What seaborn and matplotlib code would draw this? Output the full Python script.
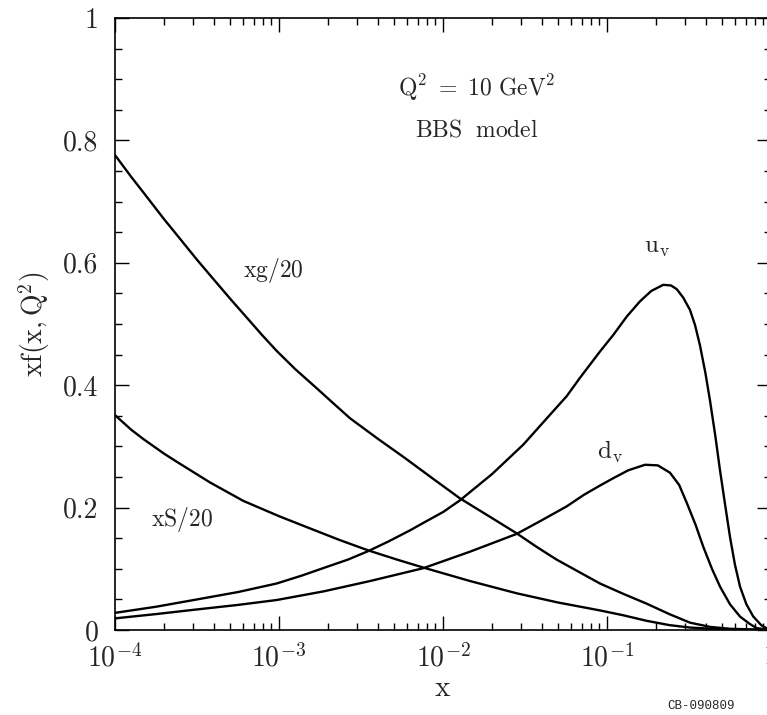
import numpy as np
import pandas as pd
import matplotlib
matplotlib.use("Agg")
import matplotlib.pyplot as plt
import seaborn as sns
from matplotlib.ticker import FixedLocator, FixedFormatter, MultipleLocator, LogLocator, NullFormatter

# ---- data (log10 x, value) ----
xg_logx = [-4.0, -3.9, -3.827, -3.7, -3.624, -3.5, -3.421, -3.3, -3.218, -3.1, -3.014, -2.9,
           -2.77, -2.667, -2.567, -2.4, -2.232, -2.06, -1.896, -1.72, -1.551, -1.43, -1.307,
           -1.165, -1.043, -0.9, -0.758, -0.62, -0.494, -0.37, -0.25, 0.0]
xg_val = [0.776, 0.740, 0.715, 0.671, 0.646, 0.605, 0.580, 0.542, 0.517, 0.481, 0.456, 0.426,
          0.395, 0.370, 0.346, 0.313, 0.281, 0.247, 0.215, 0.186, 0.158, 0.136, 0.115,
          0.094, 0.076, 0.059, 0.043, 0.026, 0.012, 0.005, 0.002, 0.0]

xs_logx = [-4.0, -3.9, -3.827, -3.7, -3.624, -3.42, -3.218, -3.0, -2.811, -2.63, -2.455, -2.28,
           -2.12, -1.835, -1.551, -1.3, -1.043, -0.9, -0.758, -0.62, -0.494, -0.3, 0.0]
xs_val = [0.351, 0.327, 0.312, 0.288, 0.275, 0.241, 0.211, 0.186, 0.166, 0.147, 0.130, 0.115,
          0.102, 0.080, 0.060, 0.045, 0.032, 0.024, 0.015, 0.008, 0.004, 0.001, 0.0]

uv_logx = [-4.0, -3.75, -3.52, -3.25, -3.014, -2.86, -2.71, -2.58, -2.455, -2.33, -2.2, -2.1,
           -1.998, -1.896, -1.7, -1.51, -1.38, -1.246, -1.165, -1.043, -0.962, -0.88, -0.799,
           -0.73, -0.657, -0.61, -0.575, -0.535, -0.494, -0.463, -0.433, -0.4, -0.372, -0.34,
           -0.311, -0.28, -0.25, -0.22, -0.189, -0.15, -0.108, -0.06, -0.027, 0.0]
uv_val = [0.028, 0.038, 0.049, 0.062, 0.076, 0.089, 0.103, 0.115, 0.129, 0.145, 0.163, 0.178,
          0.193, 0.212, 0.255, 0.303, 0.342, 0.382, 0.412, 0.455, 0.482, 0.512, 0.537,
          0.554, 0.564, 0.563, 0.557, 0.543, 0.523, 0.498, 0.465, 0.420, 0.375, 0.318,
          0.261, 0.205, 0.152, 0.107, 0.071, 0.042, 0.022, 0.008, 0.003, 0.0]

dv_logx = [-4.0, -3.75, -3.52, -3.25, -3.014, -2.73, -2.445, -2.12, -1.835, -1.551, -1.4,
           -1.246, -1.14, -1.043, -0.962, -0.87, -0.768, -0.69, -0.616, -0.56, -0.514, -0.46,
           -0.413, -0.36, -0.311, -0.25, -0.189, -0.13, -0.087, 0.0]
dv_val = [0.019, 0.026, 0.033, 0.041, 0.049, 0.063, 0.080, 0.101, 0.128, 0.157, 0.179,
          0.202, 0.221, 0.236, 0.248, 0.261, 0.270, 0.269, 0.257, 0.237, 0.208, 0.172,
          0.136, 0.100, 0.071, 0.042, 0.022, 0.010, 0.003, 0.0]

x_tick_vals = [1e-4, 1e-3, 1e-2, 1e-1, 1.0]
x_tick_labels = [r'$10^{-4}$', r'$10^{-3}$', r'$10^{-2}$', r'$10^{-1}$', '1']
y_tick_vals = [0, 0.2, 0.4, 0.6, 0.8, 1.0]
y_tick_labels = ['0', '0.2', '0.4', '0.6', '0.8', '1']

sns.set_style("ticks")
plt.rcParams['font.family'] = ['cmr10', 'DejaVu Serif']
plt.rcParams['mathtext.fontset'] = 'cm'
plt.rcParams['axes.unicode_minus'] = False
plt.rcParams['axes.formatter.use_mathtext'] = True

fig = plt.figure(figsize=(7.67, 7.15), dpi=100)
ax = fig.add_axes([115/767, 85/715, 656/767, 612/715])

series = [(xg_logx, xg_val), (xs_logx, xs_val), (uv_logx, uv_val), (dv_logx, dv_val)]
for lx, v in series:
    df = pd.DataFrame({'x': np.power(10.0, lx), 'y': v})
    sns.lineplot(data=df, x='x', y='y', ax=ax, color='black', lw=1.7, estimator=None, sort=True)

ax.set_xscale('log')
ax.set_xlim(1e-4, 1.0)
ax.set_ylim(0, 1)

ax.xaxis.set_major_locator(FixedLocator(x_tick_vals))
ax.xaxis.set_major_formatter(FixedFormatter(x_tick_labels))
ax.xaxis.set_minor_locator(LogLocator(base=10, subs=np.arange(2, 10), numticks=20))
ax.xaxis.set_minor_formatter(NullFormatter())
ax.yaxis.set_major_locator(FixedLocator(y_tick_vals))
ax.yaxis.set_major_formatter(FixedFormatter(y_tick_labels))
ax.yaxis.set_minor_locator(MultipleLocator(0.05))

ax.tick_params(which='both', direction='in', top=True, right=True, width=1.0, color='black')
ax.tick_params(which='major', length=10, labelsize=20)
ax.tick_params(axis='y', which='major', pad=12)
ax.tick_params(axis='x', which='major', pad=10)
ax.tick_params(which='minor', length=5)
for s in ax.spines.values():
    s.set_linewidth(1.2)
    s.set_color('black')

ax.set_xlabel(r'$\mathrm{x}$', fontsize=21, labelpad=2)
ax.set_ylabel(r'$\mathrm{xf(x,Q^2)}$', fontsize=20, labelpad=8)

ax.text(0.0161, 0.886, r'$\mathrm{Q^2\ =\ 10\ GeV^2}$', fontsize=17, ha='center', va='center')
ax.text(0.0161, 0.817, r'$\mathrm{BBS\ \ model}$', fontsize=17, ha='center', va='center')
ax.text(9.18e-4, 0.588, r'$\mathrm{xg/20}$', fontsize=17, ha='center', va='center')
ax.text(2.57e-4, 0.180, r'$\mathrm{xS/20}$', fontsize=17, ha='center', va='center')
ax.text(0.2018, 0.624, r'$\mathrm{u_v}$', fontsize=18, ha='center', va='center')
ax.text(0.104, 0.291, r'$\mathrm{d_v}$', fontsize=18, ha='center', va='center')

fig.text(701/767, 1 - 706/715, 'CB-090809', fontsize=9, ha='center', va='center',
         family=['Liberation Mono', 'DejaVu Sans Mono'])

fig.savefig('out.png', dpi=100)
